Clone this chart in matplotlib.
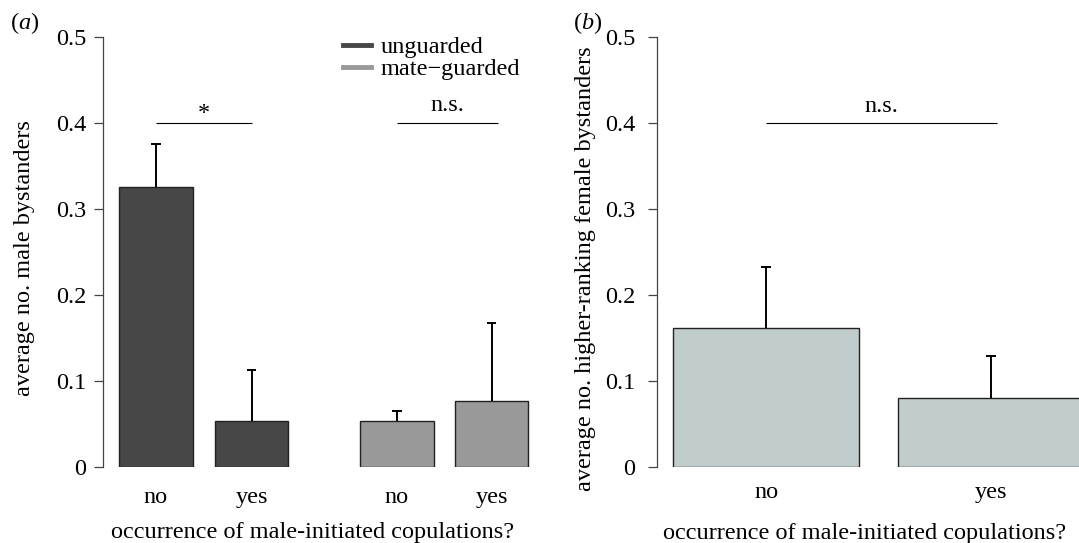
import matplotlib
matplotlib.use("Agg")
import matplotlib.pyplot as plt
from matplotlib.lines import Line2D

# values
male_labels = ["no", "yes", "no", "yes"]
male_means = [0.325, 0.053, 0.053, 0.077]
male_err = [0.051, 0.059, 0.012, 0.090]
male_groups = ["unguarded", "unguarded", "mate\u2212guarded", "mate\u2212guarded"]

female_labels = ["no", "yes"]
female_means = [0.161, 0.080]
female_err = [0.071, 0.049]

y_ticks = [0, 0.1, 0.2, 0.3, 0.4, 0.5]
y_ticklabels = ["0", "0.1", "0.2", "0.3", "0.4", "0.5"]

W, H = 1079, 543
FS = 17.5
plt.rcParams['font.family'] = ['Liberation Serif', 'DejaVu Serif']
plt.rcParams['mathtext.fontset'] = 'custom'
plt.rcParams['mathtext.rm'] = 'Liberation Serif'
plt.rcParams['mathtext.it'] = 'Liberation Serif:italic'
plt.rcParams['font.size'] = FS

group_colors = {"unguarded": "#474747", "mate\u2212guarded": "#999999"}
female_color = "#C1CDCD"


def px_axes(fig, left, top, right, bottom):
    return fig.add_axes([left / W, 1 - bottom / H, (right - left) / W, (bottom - top) / H])


def style_axis(ax, pad):
    for s in ['top', 'right', 'bottom']:
        ax.spines[s].set_visible(False)
    ax.spines['left'].set_color('#444444')
    ax.spines['left'].set_linewidth(0.9)
    ax.set_ylim(0, 0.5)
    ax.set_yticks(y_ticks)
    ax.set_yticklabels(y_ticklabels)
    ax.tick_params(axis='y', length=6.5, width=0.9, color='#444444', pad=pad, labelsize=FS)
    ax.tick_params(axis='x', length=0, labelsize=FS)


def draw_err(ax, xs, means, errs, cap):
    for x, m, e in zip(xs, means, errs):
        ax.vlines(x, m, m + e, color='black', lw=1.4)
        ax.hlines(m + e, x - cap, x + cap, color='black', lw=1.4)


def sig(ax, x0, x1, label, text_y):
    ax.hlines(0.4, x0, x1, color='black', lw=0.8)
    ax.text((x0 + x1) / 2, text_y, label, ha='center', va='baseline', fontsize=FS)


fig = plt.figure(figsize=(W / 100, H / 100), dpi=100, facecolor='white')

# panel (a)
bw_a = 73.4
ax1 = px_axes(fig, 102.7, 37, 102.7 + 5.93 * bw_a, 466.7)
xa = [0.5, 1.8, 3.78, 5.07]
ax1.bar(xa, male_means, width=1.0, color=[group_colors[g] for g in male_groups],
        edgecolor='#222222', linewidth=1.0, zorder=2)
draw_err(ax1, xa, male_means, male_err, 0.065)
ax1.set_xlim(-0.226, 5.70)
style_axis(ax1, 5.5)
ax1.set_xticks(xa)
ax1.set_xticklabels(male_labels)
ax1.tick_params(axis='x', pad=14.5)
sig(ax1, xa[0], xa[1], "*", 0.405)
sig(ax1, xa[2], xa[3] + 0.08, "n.s.", 0.414)

handles = [Line2D([], [], color=group_colors["unguarded"], lw=3.5),
           Line2D([], [], color=group_colors["mate\u2212guarded"], lw=3.5)]
fig.legend(handles, ["unguarded", "mate\u2212guarded"], loc='upper left',
           bbox_to_anchor=(343 / W, 1 - 36 / H), frameon=False, fontsize=FS,
           handlelength=1.15, handletextpad=0.4, labelspacing=0.0,
           borderpad=0, borderaxespad=0)

# panel (b)
bw_b = 186
ax2 = px_axes(fig, 657.3, 37, 657.3 + 2.39 * bw_b, 466.7)
xb = [0.5, 1.708]
ax2.bar(xb, female_means, width=1.0, color=female_color,
        edgecolor='#222222', linewidth=1.0, zorder=2)
draw_err(ax2, xb, female_means, female_err, 0.027)
ax2.set_xlim(-0.086, 2.304)
style_axis(ax2, 9.5)
ax2.set_xticks(xb)
ax2.set_xticklabels(female_labels)
ax2.tick_params(axis='x', pad=11)
sig(ax2, xb[0], xb[1] + 0.03, "n.s.", 0.413)

# axis titles and panel letters
fig.text(30 / W, 1 - 258 / H, "average no. male bystanders", rotation=90,
         rotation_mode='anchor', ha='center', va='baseline', fontsize=FS)
fig.text(590.7 / W, 1 - 269 / H, "average no. higher-ranking female bystanders",
         rotation=90, rotation_mode='anchor', ha='center', va='baseline', fontsize=FS)
fig.text(312.5 / W, 1 - 538 / H, "occurrence of male-initiated copulations?",
         ha='center', va='baseline', fontsize=FS)
fig.text(864.5 / W, 1 - 539 / H, "occurrence of male-initiated copulations?",
         ha='center', va='baseline', fontsize=FS)
fig.text(10 / W, 1 - 29 / H, r"($a$)", ha='left', va='baseline', fontsize=FS)
fig.text(573 / W, 1 - 29 / H, r"($b$)", ha='left', va='baseline', fontsize=FS)

fig.savefig("out.png", dpi=100, facecolor='white')
